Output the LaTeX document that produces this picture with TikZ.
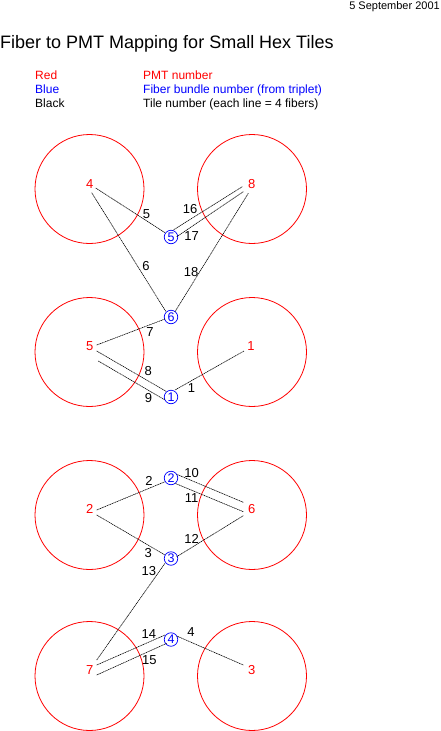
\documentclass[tikz,border=0pt]{standalone}
\usepackage{fontspec}
\setmainfont{Liberation Sans}
\definecolor{pmtred}{RGB}{255,0,0}
\definecolor{bundleblue}{RGB}{0,0,255}
\begin{document}
\begin{tikzpicture}[x=1pt,y=-1pt,
  pmt/.style={draw=pmtred,line width=0.8pt,circle,minimum size=109pt,inner sep=0pt},
  pmtnum/.style={text=pmtred,font=\fontsize{13}{14}\selectfont,inner sep=0pt},
  bundle/.style={draw=bundleblue,text=bundleblue,line width=0.7pt,circle,minimum size=13.5pt,inner sep=0pt,font=\fontsize{12.5}{13}\selectfont},
  tile/.style={font=\fontsize{13}{14}\selectfont,inner sep=0pt},
  fiber/.style={line width=0.6pt,dash pattern=on 1.2pt off 0.6pt},
  legend/.style={font=\fontsize{12}{14}\selectfont,inner sep=0pt,anchor=base west}]
\useasboundingbox (0,0) rectangle (440,731);
% header
\node[anchor=base east,inner sep=0pt,font=\fontsize{11}{13}\selectfont] (date) at (440,9) {5 September 2001};
\node[anchor=base west,inner sep=0pt,font=\fontsize{18}{20}\selectfont] (title) at (0,48) {Fiber to PMT Mapping for Small Hex Tiles};
\node[legend,text=pmtred] (lr) at (35,79) {Red};
\node[legend,text=pmtred] (lrt) at (143,79) {PMT number};
\node[legend,text=bundleblue] (lb) at (35,93) {Blue};
\node[legend,text=bundleblue] (lbt) at (143,93) {Fiber bundle number (from triplet)};
\node[legend] (lk) at (35,107) {Black};
\node[legend] (lkt) at (143,107) {Tile number (each line = 4 fibers)};
% PMT circles
\node[pmt] (c4) at (89.5,189) {};
\node[pmt] (c8) at (252,189) {};
\node[pmt] (c5) at (89.5,352) {};
\node[pmt] (c1) at (252,352) {};
\node[pmt] (c2) at (89.5,515) {};
\node[pmt] (c6) at (252,515) {};
\node[pmt] (c7) at (89.5,676) {};
\node[pmt] (c3) at (252,676) {};
% PMT numbers
\node[pmtnum] (p4) at (89.7,183.8) {4};
\node[pmtnum] (p8) at (251.7,184.5) {8};
\node[pmtnum] (p5) at (89.7,346.3) {5};
\node[pmtnum] (p1) at (251,346.3) {1};
\node[pmtnum] (p2) at (89.7,508.8) {2};
\node[pmtnum] (p6) at (251.7,508.8) {6};
\node[pmtnum] (p7) at (89.7,670.5) {7};
\node[pmtnum] (p3) at (251.7,670.5) {3};
% bundles
\node[bundle] (b5) at (171,237) {5};
\node[bundle] (b6) at (171,317) {6};
\node[bundle] (b1) at (171,397) {1};
\node[bundle] (b2) at (171,478) {2};
\node[bundle] (b3) at (171,558.5) {3};
\node[bundle] (b4) at (171,639.5) {4};
% fiber end points
\coordinate (a5) at (95.7,188);   \coordinate (e5) at (165,232.7);
\coordinate (a6) at (91.7,192.7); \coordinate (e6) at (166,311.7);
\coordinate (a16) at (242.3,186.7); \coordinate (e16) at (173.3,230);
\coordinate (a17) at (243.3,191.7); \coordinate (e17) at (176.7,236.7);
\coordinate (a18) at (248.3,193.3); \coordinate (e18) at (175,311.7);
\coordinate (a7) at (96.7,345);   \coordinate (e7) at (165,319);
\coordinate (a8) at (96.7,351);   \coordinate (e8) at (166.7,391.7);
\coordinate (a9) at (98.3,361);   \coordinate (e9) at (165,400);
\coordinate (a1) at (244,351);    \coordinate (e1) at (175,390);
\coordinate (a2) at (96.7,510);   \coordinate (e2) at (165,481.7);
\coordinate (a10) at (243.3,502.3); \coordinate (e10) at (176.7,474.3);
\coordinate (a11) at (243.3,511.7); \coordinate (e11) at (175,483.3);
\coordinate (a3) at (96.7,515);   \coordinate (e3) at (165,555);
\coordinate (a12) at (243.3,515.7); \coordinate (e12) at (176.7,556.7);
\coordinate (a13) at (96.7,660);  \coordinate (e13) at (165,563.3);
\coordinate (a14) at (96.7,665);  \coordinate (e14) at (165,635);
\coordinate (a15) at (96.7,675);  \coordinate (e15) at (166.7,643.3);
\coordinate (a4) at (243.3,665);  \coordinate (e4) at (176.7,636);
\foreach \n in {5,6,16,17,18,7,8,9,1,2,10,11,3,12,13,14,15,4}
  \draw[fiber] (a\n) -- (e\n);
% tile numbers
\node[tile] (t5) at (146.5,214.5) {5};
\node[tile] (t16) at (190,209.5) {16};
\node[tile] (t17) at (191.5,236) {17};
\node[tile] (t6) at (146,266) {6};
\node[tile] (t18) at (191,271.7) {18};
\node[tile] (t7) at (150,332) {7};
\node[tile] (t8) at (148.3,371.5) {8};
\node[tile] (t9) at (148.5,398.5) {9};
\node[tile] (t1) at (191.5,388.5) {1};
\node[tile] (t2) at (149,481) {2};
\node[tile] (t10) at (191.7,473.5) {10};
\node[tile] (t11) at (191.7,497.7) {11};
\node[tile] (t3) at (148.3,553.5) {3};
\node[tile] (t12) at (191.7,538.8) {12};
\node[tile] (t13) at (148.8,571.3) {13};
\node[tile] (t14) at (148.8,633.8) {14};
\node[tile] (t15) at (149.3,659.7) {15};
\node[tile] (t4) at (191,632.5) {4};
\end{tikzpicture}
\end{document}
